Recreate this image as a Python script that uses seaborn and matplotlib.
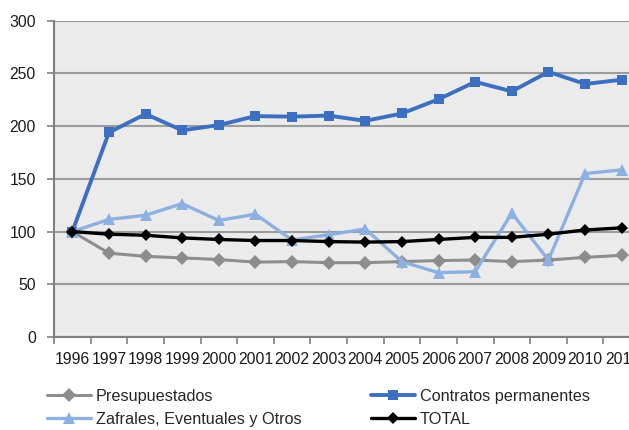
import matplotlib
matplotlib.use("Agg")
import matplotlib.pyplot as plt
from matplotlib import font_manager as fm
from matplotlib.ticker import FixedLocator, NullFormatter
import seaborn as sns
import numpy as np

years = ["1996", "1997", "1998", "1999", "2000", "2001", "2002", "2003",
         "2004", "2005", "2006", "2007", "2008", "2009", "2010", "2011"]
presupuestados = [100, 79.5, 76.5, 75, 73.5, 71, 71.5, 70.5, 70.5, 71.5, 72.5, 73, 71.5, 73, 75.5, 77.5]
contratos = [100, 194, 211.5, 196, 201, 209.5, 209, 210, 205, 212, 225.5, 242, 233, 251.5, 240, 244]
zafrales = [100, 111.5, 115.5, 126.5, 110.5, 116.5, 92, 97, 102.5, 71.5, 61, 62, 117.5, 73, 155, 158.5]
total = [100, 97.5, 96.5, 94, 92.5, 91.5, 91.5, 90.5, 90, 90.5, 92.5, 94.5, 94.5, 97.5, 101.5, 103.5]

names = {f.name for f in fm.fontManager.ttflist}
if "Liberation Sans Narrow" in names:
    FAM = ["Liberation Sans Narrow", "DejaVu Sans"]
    TICK_FS, LEG_FS = 13.5, 14.0
else:
    FAM = ["Liberation Sans", "DejaVu Sans"]
    TICK_FS, LEG_FS = 11.3, 11.7

sns.set_theme(style="white")
plt.rcParams["font.family"] = FAM

fig = plt.figure(figsize=(6.29, 4.30), dpi=100)
ax = fig.add_axes([54 / 629, (430 - 337) / 430, 586 / 629, (337 - 20.7) / 430])
ax.set_facecolor("#ebebeb")

pos = np.arange(len(years))
series = [
    ("Presupuestados", presupuestados, "#8d8d8d", "D", 7.0, 2.2),
    ("Contratos permanentes", contratos, "#3d6fc1", "s", 7.0, 2.8),
    ("Zafrales, Eventuales y Otros", zafrales, "#8cb0e0", "^", 8.0, 2.4),
    ("TOTAL", total, "#000000", "D", 6.5, 2.4),
]
for name, vals, col, mk, ms, lw in series:
    sns.lineplot(x=pos, y=vals, ax=ax, color=col, marker=mk, markersize=ms,
                 markeredgewidth=0, linewidth=lw, label=name, zorder=3)

ax.set_xlim(-0.5, 15.5)
ax.set_ylim(0, 300)
ax.set_yticks([0, 50, 100, 150, 200, 250, 300])
ax.yaxis.grid(True, color="#9c9c9c", linewidth=1.5, zorder=1)
ax.xaxis.grid(False)
ax.set_axisbelow(True)

# x ticks: marks at category edges, labels at centres
ax.xaxis.set_major_locator(FixedLocator(np.arange(-0.5, 16.0, 1.0)))
ax.xaxis.set_major_formatter(NullFormatter())
ax.xaxis.set_minor_locator(FixedLocator(pos))
ax.set_xticklabels(years, minor=True)
ax.tick_params(axis="x", which="major", direction="out", length=5, width=1.2,
               color="#808080", bottom=True)
ax.tick_params(axis="x", which="minor", length=0, pad=11, labelsize=TICK_FS,
               labelcolor="#1a1a1a", bottom=True)
ax.tick_params(axis="y", direction="out", length=5, width=1.2, color="#808080",
               pad=8, labelsize=TICK_FS, labelcolor="#1a1a1a", left=True)

for s in ["top", "right"]:
    ax.spines[s].set_visible(False)
for s in ["left", "bottom"]:
    ax.spines[s].set_color("#808080")
    ax.spines[s].set_linewidth(1.5)

ax.set_xlabel("")
ax.set_ylabel("")
ax.get_legend().remove()

h, l = ax.get_legend_handles_labels()
order = [0, 2, 1, 3]
fig.legend([h[i] for i in order], [l[i] for i in order], ncol=2,
           loc="upper left", bbox_to_anchor=(47 / 629, 1 - 389 / 430),
           frameon=False, fontsize=LEG_FS, handlelength=2.7, handletextpad=0.3,
           columnspacing=4.3, labelspacing=0.5, borderpad=0, borderaxespad=0)

fig.savefig("out.png", dpi=100)
